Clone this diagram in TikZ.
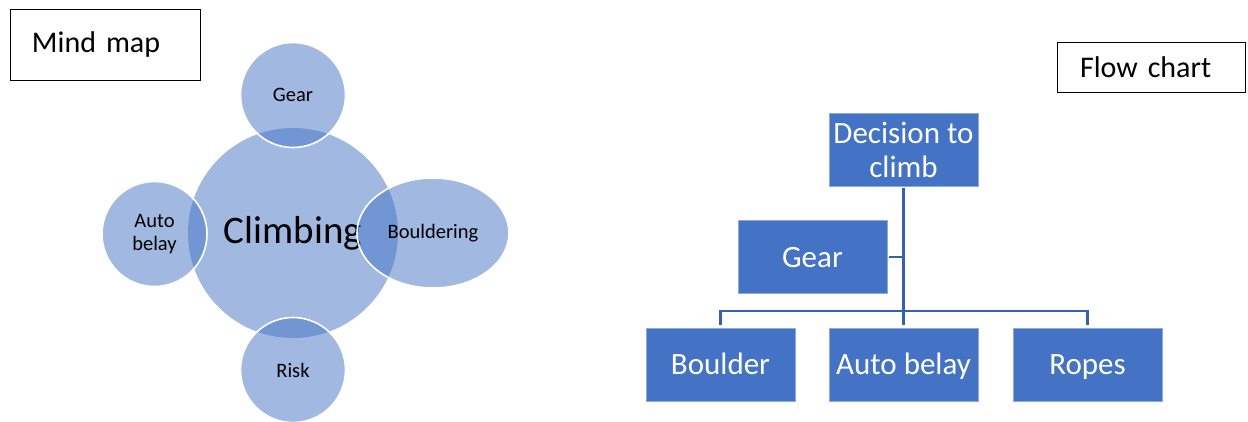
\documentclass[tikz,border=0pt]{standalone}
\usepackage{fontspec}
\setmainfont{Carlito}
\usetikzlibrary{shapes.geometric}
\definecolor{acc}{HTML}{4472C4}
\definecolor{linec}{HTML}{3560AA}
\definecolor{boxedge}{HTML}{8EA9DB}
\begin{document}
\begin{tikzpicture}[x=1bp,y=-1bp,
  bubble/.style={circle, fill=acc, fill opacity=0.5, text opacity=1, draw=white, line width=1.6bp,
    inner sep=0pt, minimum size=105bp, font=\fontsize{20.5bp}{23bp}\selectfont, align=center},
  fcbox/.style={rectangle, fill=acc, draw=boxedge, line width=0.5bp, minimum width=149bp, minimum height=73bp,
    inner sep=0pt, text=white, font=\fontsize{31bp}{34bp}\selectfont, align=center},
  oneline/.style={fcbox, text height=26bp, text depth=6bp},
  labelbox/.style={rectangle, draw=black, line width=1bp, inner ysep=0pt, align=left,
    font=\fontsize{30bp}{34bp}\selectfont},
  conn/.style={draw=linec, line width=2.6bp}
]
\useasboundingbox (0,0) rectangle (1248,421);

% ---- Mind map ----
\node[labelbox, inner xsep=21bp, text width=147bp, minimum height=71bp] (mm) at (105.5,44.5) {Mind map};

\node[circle, fill=acc, fill opacity=0.5, text opacity=1, draw=none, inner sep=0pt, minimum size=210bp,
      font=\fontsize{39bp}{42bp}\selectfont] (climb) at (293,233) {Climbing};
\node[bubble] (gear) at (293,95) {Gear};
\node[bubble] (risk) at (293,370) {Risk};
\node[bubble] (auto) at (154.5,234) {Auto\\belay};
\node[bubble, ellipse, minimum width=152bp, minimum height=110bp] (bould) at (433,233) {Bouldering};

% ---- Flow chart ----
\node[labelbox, inner xsep=23bp, text width=142bp, minimum height=50bp] (fc) at (1151,67) {Flow chart};

\node[fcbox] (dec) at (903.5,149.5) {Decision to\\climb};
\node[oneline] (fgear) at (812.5,257) {Gear};
\node[oneline] (boulder) at (720.5,364.5) {Boulder};
\node[oneline] (autob) at (903.5,364.5) {Auto belay};
\node[oneline] (ropes) at (1087.5,364.5) {Ropes};

\coordinate (bus) at (903.5,311);
\draw[conn] ([yshift=-2bp]dec.south) -- ([yshift=3bp]autob.north);
\draw[conn] ([yshift=3bp]boulder.north) |- (bus) -| ([yshift=3bp]ropes.north);
\draw[conn] ([xshift=2bp]fgear.east) -- (fgear.east -| dec.south);
\end{tikzpicture}
\end{document}
